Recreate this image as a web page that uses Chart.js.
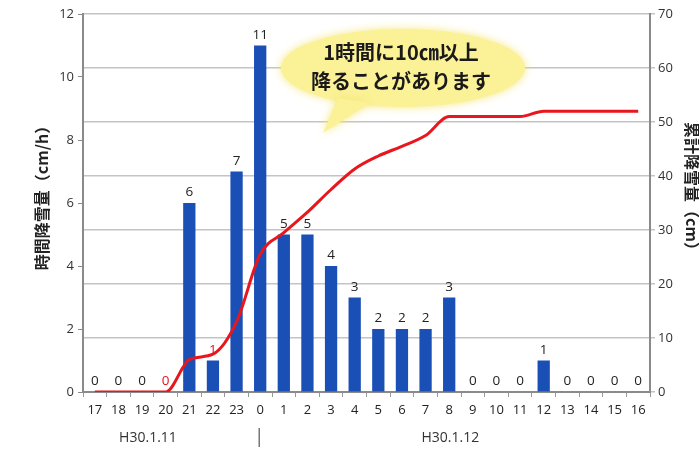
<!DOCTYPE html>
<html><head><meta charset="utf-8">
<script src="https://cdn.jsdelivr.net/npm/chart.js@4"></script>
<style>html,body{margin:0;padding:0;background:#fff}#w{width:699px;height:449px}</style>
</head><body><div id="w"><canvas id="c"></canvas></div>
<script>
const hours = ['17','18','19','20','21','22','23','0','1','2','3','4','5','6','7','8','9','10','11','12','13','14','15','16'];
const hourlySnow = [0,0,0,0,6,1,7,11,5,5,4,3,2,2,2,3,0,0,0,1,0,0,0,0];
const cumulativeSnow = [0,0,0,0,6,7,13,25.5,29.5,33.3,37.5,41.3,43.7,45.5,47.5,51,51,51,51,52,52,52,52,52];
const redLabelIdx = [3,5];
const leftTitle = '時間降雪量（cm/h）';
const rightTitle = '累計降雪量（cm）';
const dateLabels = ['H30.1.11','H30.1.12'];
const calloutLines = ['1時間に10㎝以上','降ることがあります'];

const FONT = "'Noto Sans CJK JP','Noto Sans',sans-serif";

const decor = {
  id:'decor',
  afterDatasetsDraw(chart){
    const ctx = chart.ctx;
    const meta = chart.getDatasetMeta(1);
    ctx.save();
    ctx.font = "13.5px 'Open Sans','Noto Sans',sans-serif";
    ctx.textAlign = 'center';
    ctx.textBaseline = 'alphabetic';
    meta.data.forEach((bar,i)=>{
      ctx.fillStyle = redLabelIdx.includes(i) ? '#e0141b' : '#222';
      ctx.fillText(String(hourlySnow[i]), bar.x, bar.y - 7);
    });
    const cx = 403, cy = 68, rx = 122, ry = 39;
    ctx.beginPath();
    ctx.ellipse(cx, cy, rx, ry, 0, 0, Math.PI*2);
    ctx.fillStyle = '#fbf196';
    ctx.shadowColor = 'rgba(245,230,110,0.9)';
    ctx.shadowBlur = 8;
    ctx.fill();
    ctx.beginPath();
    ctx.moveTo(338, 98);
    ctx.lineTo(323, 133);
    ctx.lineTo(370, 103);
    ctx.closePath();
    ctx.fill();
    ctx.shadowBlur = 0;
    ctx.fillStyle = '#1a1a1a';
    ctx.font = "bold 20px " + FONT;
    ctx.textBaseline = 'middle';
    ctx.fillText(calloutLines[0], 401, 52);
    ctx.fillText(calloutLines[1], 401, 81);
    ctx.restore();
  },
  afterDraw(chart){
    const ctx = chart.ctx;
    const x = chart.scales.x;
    ctx.save();
    ctx.fillStyle = '#222';
    ctx.font = "bold 16px " + FONT;
    ctx.textAlign = 'center';
    ctx.textBaseline = 'middle';
    ctx.save();
    ctx.translate(42, 194);
    ctx.rotate(-Math.PI/2);
    ctx.fillText(leftTitle, 0, 0);
    ctx.restore();
    ctx.save();
    ctx.translate(692, 190);
    ctx.rotate(Math.PI/2);
    ctx.fillText(rightTitle, 0, 0);
    ctx.restore();
    ctx.font = "14px 'Open Sans','Noto Sans',sans-serif";
    ctx.fillStyle = '#333';
    const step = x.getPixelForValue(1) - x.getPixelForValue(0);
    ctx.fillText(dateLabels[0], x.getPixelForValue(2) + step*0.25, 438);
    ctx.fillText(dateLabels[1], x.getPixelForValue(15) + step*0.05, 438);
    const sep = x.getPixelForValue(7) - 1;
    ctx.strokeStyle = '#555';
    ctx.lineWidth = 1.2;
    ctx.beginPath();
    ctx.moveTo(sep, 428);
    ctx.lineTo(sep, 447);
    ctx.stroke();
    ctx.restore();
  }
};

new Chart(document.getElementById('c'), {
  type:'bar',
  data:{
    labels:hours,
    datasets:[
      {type:'line', data:cumulativeSnow, yAxisID:'y1', borderColor:'#e8161d', borderWidth:3,
       pointRadius:0, cubicInterpolationMode:'monotone', order:0},
      {type:'bar', data:hourlySnow, yAxisID:'y', backgroundColor:'#1a4fb5',
       barPercentage:0.52, categoryPercentage:1, order:1}
    ]
  },
  options:{
    responsive:true, maintainAspectRatio:false, animation:false,
    layout:{padding:{top:14,right:0,left:0,bottom:0}},
    plugins:{legend:{display:false}, tooltip:{enabled:false}},
    scales:{
      x:{
        grid:{display:true, drawOnChartArea:false, offset:true, tickLength:5, color:'#999', lineWidth:1},
        border:{color:'#8a8a8a', width:2},
        ticks:{color:'#222', font:{size:13, family:"'Open Sans','Noto Sans',sans-serif"}, padding:5, maxRotation:0, autoSkip:false},
        afterFit(s){ s.height = 57; }
      },
      y:{
        position:'left', min:0, max:12,
        ticks:{stepSize:2, color:'#333', font:{size:13, family:"'Open Sans','Noto Sans',sans-serif"}, padding:4},
        grid:{drawOnChartArea:false, tickLength:5, color:'#8a8a8a'},
        border:{color:'#8a8a8a', width:2},
        afterFit(s){ s.width = 83; }
      },
      y1:{
        position:'right', min:0, max:70,
        ticks:{stepSize:10, color:'#333', font:{size:13, family:"'Open Sans','Noto Sans',sans-serif"}, padding:3},
        grid:{drawOnChartArea:true, tickLength:5, color:'#c4c4c4', lineWidth:1.5},
        border:{color:'#8a8a8a', width:2},
        afterFit(s){ s.width = 49; }
      }
    }
  },
  plugins:[decor]
});
</script>
</body></html>
